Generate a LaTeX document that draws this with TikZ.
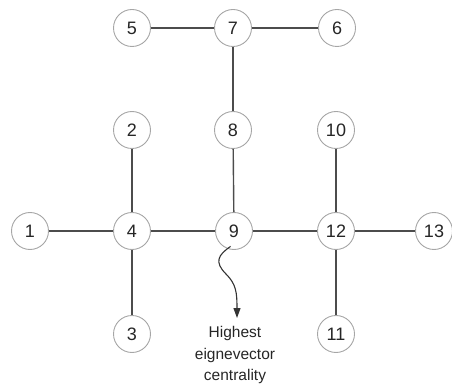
\documentclass[tikz,border=0pt]{standalone}
\usepackage{fontspec}
\setmainfont{Liberation Sans}
\usetikzlibrary{arrows.meta}
\begin{document}
\begin{tikzpicture}[x=1pt,y=-1pt,
  vert/.style={circle,draw=gray!70,line width=0.9pt,fill=white,minimum size=37pt,inner sep=0pt,font=\fontsize{18}{18}\selectfont,text=black!85},
  edge/.style={draw=black!70,line width=1.4pt},
  lbl/.style={align=center,font=\fontsize{15.5}{21.5}\selectfont,text=black!85}]
\useasboundingbox (0,0) rectangle (452,387);
\node[vert] (n5) at (132,28) {5};
\node[vert] (n7) at (233,28) {7};
\node[vert] (n6) at (337,28) {6};
\node[vert] (n2) at (132,130) {2};
\node[vert] (n8) at (233,130) {8};
\node[vert] (n10) at (336,130) {10};
\node[vert] (n1) at (30,231) {1};
\node[vert] (n4) at (132,231) {4};
\node[vert] (n9) at (234,231) {9};
\node[vert] (n12) at (336,231) {12};
\node[vert] (n13) at (434,231) {13};
\node[vert] (n3) at (132,334) {3};
\node[vert] (n11) at (336,334) {11};
\path[edge] (n5) -- (n7);
\path[edge] (n7) -- (n6);
\path[edge] (n7) -- (n8);
\path[edge] (n8) -- (n9);
\path[edge] (n2) -- (n4);
\path[edge] (n1) -- (n4);
\path[edge] (n4) -- (n9);
\path[edge] (n9) -- (n12);
\path[edge] (n12) -- (n13);
\path[edge] (n10) -- (n12);
\path[edge] (n12) -- (n11);
\path[edge] (n4) -- (n3);
\node[lbl] (hl) at (235,355) {Highest\\eignevector\\centrality};
\coordinate (tip) at (237,318);
\draw[black!80,line width=1.1pt,-{Triangle[length=10pt,width=7pt]}]
  (n9.south west) ++(10,2) .. controls (218,255) and (214,262) .. (226,274)
  .. controls (236,284) and (237,292) .. (tip);
\end{tikzpicture}
\end{document}
